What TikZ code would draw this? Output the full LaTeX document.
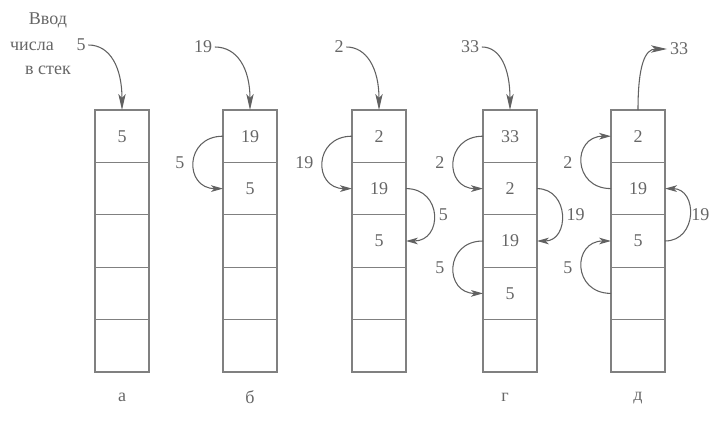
\documentclass[tikz,border=0pt]{standalone}
\usepackage{fontspec}
\setmainfont{Liberation Serif}
\usetikzlibrary{arrows.meta}
\definecolor{rule}{gray}{0.50}
\definecolor{ink}{gray}{0.38}
\definecolor{txt}{gray}{0.40}
\begin{document}
\begin{tikzpicture}[x=0.75pt,y=0.75pt,
  font=\fontsize{13.5}{15}\selectfont,
  cell/.style={draw=rule, line width=0.8pt, minimum width=40.5pt,
    minimum height=39.3pt, inner sep=0pt, outer sep=0pt},
  num/.style={text=txt, inner sep=0pt},
  lbl/.style={text=txt, inner sep=0pt},
  tag/.style={text=txt, inner sep=2pt},
  caption/.style={text=txt, inner sep=0pt},
  move/.style={draw=ink, line width=0.8pt,
    -{Stealth[length=9pt,width=5pt,inset=2.5pt]}},
  feed/.style={draw=ink, line width=0.8pt,
    -{Stealth[length=12pt,width=5.5pt,inset=3pt]}}]
\useasboundingbox (0,0) rectangle (711,-425);

% five stacks of five cells each
\foreach \n/\L in {a/95,b/223,c/352,d/483,e/611}{
  \foreach \r in {1,...,5}{
    \node[cell] (\n\r) at (\L+27,-110-52.4*\r+26.2) {};
  }
}

% cell contents
\foreach \n/\r/\t in {a/1/5,
    b/1/19, b/2/5,
    c/1/2, c/2/19, c/3/5,
    d/1/33, d/2/2, d/3/19, d/4/5,
    e/1/2, e/2/19, e/3/5}{
  \node[num] (t\n\r) at (\n\r) {\t};
}

% heading on the left
\node[caption] (h1) at (48,-20) {Ввод};
\node[caption] (h2) at (32,-46) {числа};
\node[caption] (h3) at (48,-70) {в стек};

% values pushed onto the stacks
\node[tag] (ina) at (81,-45) {5};
\node[tag] (inb) at (203,-47) {19};
\node[tag] (inc) at (339,-47) {2};
\node[tag] (ind) at (470,-47) {33};
\node[tag] (oute) at (679,-49) {33};

\draw[feed] (ina.east) .. controls +(22,0) and +(0,42) .. (a1.north);
\draw[feed] (inb.east) .. controls +(22,0) and +(0,42) .. (b1.north);
\draw[feed] (inc.east) .. controls +(20,0) and +(0,42) .. (c1.north);
\draw[feed] (ind.east) .. controls +(18,0) and +(0,42) .. (d1.north);
\draw[feed] (e1.north) .. controls +(0,45) and +(-22,0) .. (oute.west);

% shifting the contents downwards
\draw[move] (b1.west) to[out=180,in=180,looseness=1.9] node[lbl,left=6.75pt] {5} (b2.west);

\draw[move] (c1.west) to[out=180,in=180,looseness=1.9] node[lbl,left=6.75pt] {19} (c2.west);
\draw[move] (c2.east) to[out=0,in=0,looseness=1.8] node[lbl,right=3.5pt] {5} (c3.east);

\draw[move] (d1.west) to[out=180,in=180,looseness=1.9] node[lbl,left=6.75pt] {2} (d2.west);
\draw[move] (d2.east) to[out=0,in=0,looseness=1.6] node[lbl,right=3.5pt] {19} (d3.east);
\draw[move] (d3.west) to[out=180,in=180,looseness=1.9] node[lbl,left=6.75pt] {5} (d4.west);

% shifting the contents upwards
\draw[move] (e2.west) to[out=180,in=180,looseness=1.9] node[lbl,left=6.75pt] {2} (e1.west);
\draw[move] (e3.east) to[out=0,in=0,looseness=1.6] node[lbl,right=1pt] {19} (e2.east);
\draw[move] (e4.west) to[out=180,in=180,looseness=1.9] node[lbl,left=6.75pt] {5} (e3.west);

% captions under the stacks
\node[caption] (capa) at (122,-397) {а};
\node[caption] (capb) at (250,-397) {б};
\node[caption] (capd) at (505,-397) {г};
\node[caption] (cape) at (638,-398) {д};
\end{tikzpicture}
\end{document}
